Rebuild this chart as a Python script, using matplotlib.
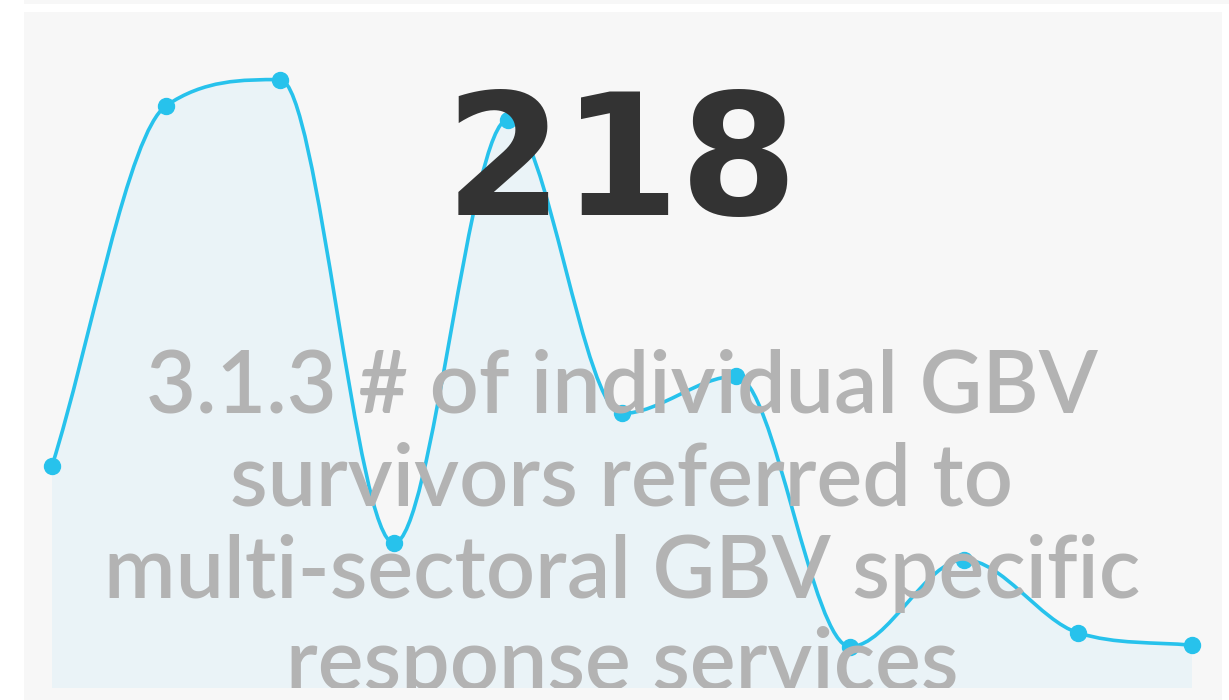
import numpy as np
import matplotlib
matplotlib.use('Agg')
import matplotlib.pyplot as plt
from matplotlib.path import Path
from matplotlib.patches import PathPatch, Rectangle

# data
periods = list(range(1, 12))
values = [16.1, 42.2, 44.1, 10.5, 41.2, 19.9, 22.6, 3.0, 9.3, 4.0, 3.1]
total_label = '218'
title_text = '3.1.3 # of individual GBV\nsurvivors referred to\nmulti-sectoral GBV specific\nresponse services'

line_color = '#27c2ec'
fill_color = '#eaf3f7'
panel_color = '#f7f7f7'

W, H = 1229, 700
fig = plt.figure(figsize=(W / 100, H / 100), dpi=100)
fig.patch.set_facecolor('white')

# grey panel and thin strip at top (pixel coords converted to figure fraction)
fig.patches.append(Rectangle((24 / W, 0), 1198 / W, 688 / H, transform=fig.transFigure,
                             facecolor=panel_color, edgecolor='none', zorder=-5))
fig.patches.append(Rectangle((24 / W, 696 / H), 1205 / W, 4 / H, transform=fig.transFigure,
                             facecolor=panel_color, edgecolor='none', zorder=-5))

ax = fig.add_axes([24 / W, 12 / H, 1198 / W, 676 / H])
ax.set_xlim(periods[0] - 28 / 114, periods[-1] + 30 / 114)
ax.set_ylim(0, 49)
ax.axis('off')


def monotone_path(xs, ys):
    # monotone cubic curve through the points (no overshoot at peaks)
    xs = np.asarray(xs, float)
    ys = np.asarray(ys, float)
    n = len(xs)
    dk = np.diff(ys) / np.diff(xs)
    mk = np.zeros(n)
    mk[0] = dk[0]
    mk[-1] = dk[-1]
    for i in range(1, n - 1):
        if dk[i - 1] * dk[i] > 0:
            mk[i] = (dk[i - 1] + dk[i]) / 2
    for i in range(n - 1):
        if dk[i] == 0:
            mk[i] = mk[i + 1] = 0
            continue
        a = mk[i] / dk[i]
        b = mk[i + 1] / dk[i]
        sq = a * a + b * b
        if sq > 9:
            tau = 3 / np.sqrt(sq)
            mk[i] = a * tau * dk[i]
            mk[i + 1] = b * tau * dk[i]
    verts = [(xs[0], ys[0])]
    codes = [Path.MOVETO]
    for i in range(n - 1):
        dx = (xs[i + 1] - xs[i]) / 3
        verts += [(xs[i] + dx, ys[i] + mk[i] * dx),
                  (xs[i + 1] - dx, ys[i + 1] - mk[i + 1] * dx),
                  (xs[i + 1], ys[i + 1])]
        codes += [Path.CURVE4] * 3
    return np.array(verts), codes


verts, codes = monotone_path(periods, values)

# area under the curve
fill_verts = np.vstack([verts, [[periods[-1], 0], [periods[0], 0], [periods[0], 0]]])
fill_codes = codes + [Path.LINETO, Path.LINETO, Path.CLOSEPOLY]
ax.add_patch(PathPatch(Path(fill_verts, fill_codes), facecolor=fill_color,
                       edgecolor='none', zorder=1))

ax.add_patch(PathPatch(Path(verts, codes), facecolor='none', edgecolor=line_color,
                       linewidth=2.6, zorder=2))
ax.plot(periods, values, 'o', color=line_color, markersize=11.5, zorder=3, clip_on=False)

ax.text(0.499, 0.6997, total_label, transform=ax.transAxes, ha='center', va='baseline',
        fontsize=122, fontweight='bold', family='DejaVu Sans', color='#333333', zorder=5)

# va='baseline' on multi-line text sits on the last line
ax.text(0.499, -0.003, title_text, transform=ax.transAxes, ha='center', va='baseline',
        fontsize=62, fontweight='semibold', family='Lato', color='#b3b3b3',
        linespacing=1.21, zorder=5, clip_on=True)

fig.savefig('out.png', dpi=100, facecolor='white')
